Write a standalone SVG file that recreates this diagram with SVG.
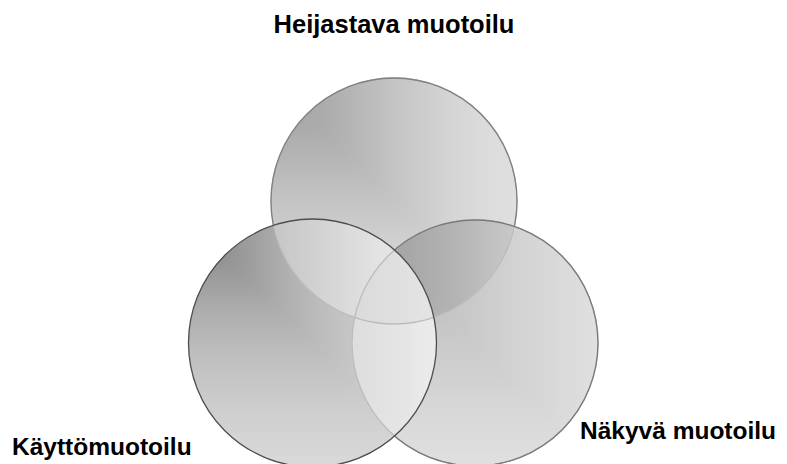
<svg xmlns="http://www.w3.org/2000/svg" width="787" height="464" viewBox="0 0 787 464">
<style>
.lbl{font-family:"Liberation Sans",Arial,sans-serif;font-weight:bold;fill:#000}
</style>
<defs>
<clipPath id="cT"><circle cx="394" cy="201" r="123"/></clipPath>
<clipPath id="cL"><circle cx="312.5" cy="343" r="124"/></clipPath>
<clipPath id="cR"><circle cx="475" cy="343" r="123"/></clipPath>
<filter id="soft" x="-10%" y="-10%" width="120%" height="120%"><feGaussianBlur stdDeviation="7"/></filter>
<linearGradient id="gTh" gradientUnits="userSpaceOnUse" x1="271" y1="0" x2="517" y2="0">
<stop offset="0" stop-color="#a4a4a4"/><stop offset="0.2" stop-color="#aaaaaa"/><stop offset="0.5" stop-color="#c4c4c4"/><stop offset="0.75" stop-color="#d6d6d6"/><stop offset="1" stop-color="#e0e0e0"/>
</linearGradient>
<linearGradient id="gTv" href="#gTh" gradientUnits="userSpaceOnUse" x1="0" y1="78" x2="0" y2="324"/>
<linearGradient id="gRh" gradientUnits="userSpaceOnUse" x1="352" y1="0" x2="598" y2="0">
<stop offset="0" stop-color="#b4b4b4"/><stop offset="0.3" stop-color="#c0c0c0"/><stop offset="0.5" stop-color="#cacaca"/><stop offset="0.75" stop-color="#d6d6d6"/><stop offset="1" stop-color="#e0e0e0"/>
</linearGradient>
<linearGradient id="gRv" href="#gRh" gradientUnits="userSpaceOnUse" x1="0" y1="220" x2="0" y2="466"/>
<linearGradient id="gTRh" gradientUnits="userSpaceOnUse" x1="352" y1="0" x2="598" y2="0">
<stop offset="0" stop-color="#a0a0a0"/><stop offset="0.25" stop-color="#a8a8a8"/><stop offset="0.45" stop-color="#b6b6b6"/><stop offset="0.6" stop-color="#c4c4c4"/><stop offset="0.8" stop-color="#d0d0d0"/><stop offset="1" stop-color="#d6d6d6"/>
</linearGradient>
<linearGradient id="gTRv" href="#gTRh" gradientUnits="userSpaceOnUse" x1="0" y1="220" x2="0" y2="466"/>
<linearGradient id="gLh" gradientUnits="userSpaceOnUse" x1="188.5" y1="0" x2="436.5" y2="0">
<stop offset="0" stop-color="#808080"/><stop offset="0.18" stop-color="#959595"/><stop offset="0.4" stop-color="#b0b0b0"/><stop offset="0.55" stop-color="#bebebe"/><stop offset="0.75" stop-color="#cdcdcd"/><stop offset="1" stop-color="#dadada"/>
</linearGradient>
<linearGradient id="gLv" href="#gLh" gradientUnits="userSpaceOnUse" x1="0" y1="219" x2="0" y2="467"/>
<linearGradient id="gTLh" gradientUnits="userSpaceOnUse" x1="188.5" y1="0" x2="436.5" y2="0">
<stop offset="0" stop-color="#b0b0b0"/><stop offset="0.35" stop-color="#c6c6c6"/><stop offset="0.55" stop-color="#d4d4d4"/><stop offset="0.75" stop-color="#e2e2e2"/><stop offset="1" stop-color="#e8e8e8"/>
</linearGradient>
<linearGradient id="gTLv" href="#gTLh" gradientUnits="userSpaceOnUse" x1="0" y1="219" x2="0" y2="467"/>
<linearGradient id="gLRh" gradientUnits="userSpaceOnUse" x1="188.5" y1="0" x2="436.5" y2="0">
<stop offset="0" stop-color="#cccccc"/><stop offset="0.6" stop-color="#dcdcdc"/><stop offset="0.85" stop-color="#e4e4e4"/><stop offset="1" stop-color="#ececec"/>
</linearGradient>
<linearGradient id="gLRv" href="#gLRh" gradientUnits="userSpaceOnUse" x1="0" y1="219" x2="0" y2="467"/>
<linearGradient id="gAllh" gradientUnits="userSpaceOnUse" x1="188.5" y1="0" x2="436.5" y2="0">
<stop offset="0" stop-color="#cccccc"/><stop offset="0.6" stop-color="#d8d8d8"/><stop offset="0.85" stop-color="#e0e0e0"/><stop offset="1" stop-color="#e4e4e4"/>
</linearGradient>
<linearGradient id="gAllv" href="#gAllh" gradientUnits="userSpaceOnUse" x1="0" y1="219" x2="0" y2="467"/>
<mask id="mOutLR" maskUnits="userSpaceOnUse" x="0" y="0" width="787" height="464">
<rect x="0" y="0" width="787" height="464" fill="#fff"/>
<circle cx="312.5" cy="343" r="124" fill="#000"/>
<circle cx="475" cy="343" r="123" fill="#000"/>
</mask>
<mask id="mOutL" maskUnits="userSpaceOnUse" x="0" y="0" width="787" height="464">
<rect x="0" y="0" width="787" height="464" fill="#fff"/>
<circle cx="312.5" cy="343" r="124" fill="#000"/>
</mask>
</defs>

<g id="node-top">
<g clip-path="url(#cT)"><g filter="url(#soft)">
<rect x="251" y="58" width="286" height="286" fill="url(#gTv)"/>
<polygon points="251,58 537,58 537,344" fill="url(#gTh)"/>
</g></g>
</g>

<g id="node-right">
<g clip-path="url(#cR)"><g filter="url(#soft)">
<rect x="332" y="200" width="286" height="286" fill="url(#gRv)"/>
<polygon points="332,200 618,200 618,486" fill="url(#gRh)"/>
</g></g>
<g clip-path="url(#cT)"><g clip-path="url(#cR)"><g filter="url(#soft)">
<rect x="332" y="200" width="286" height="286" fill="url(#gTRv)"/>
<polygon points="332,200 618,200 618,486" fill="url(#gTRh)"/>
</g></g></g>
</g>

<g id="node-left">
<g clip-path="url(#cL)"><g filter="url(#soft)">
<rect x="168.5" y="199" width="288" height="288" fill="url(#gLv)"/>
<polygon points="168.5,199 456.5,199 456.5,487" fill="url(#gLh)"/>
</g></g>
<g clip-path="url(#cT)"><g clip-path="url(#cL)"><g filter="url(#soft)">
<rect x="168.5" y="199" width="288" height="288" fill="url(#gTLv)"/>
<polygon points="168.5,199 456.5,199 456.5,487" fill="url(#gTLh)"/>
</g></g></g>
<g clip-path="url(#cR)"><g clip-path="url(#cL)"><g filter="url(#soft)">
<rect x="168.5" y="199" width="288" height="288" fill="url(#gLRv)"/>
<polygon points="168.5,199 456.5,199 456.5,487" fill="url(#gLRh)"/>
</g></g></g>
<g clip-path="url(#cT)"><g clip-path="url(#cR)"><g clip-path="url(#cL)"><g filter="url(#soft)">
<rect x="168.5" y="199" width="288" height="288" fill="url(#gAllv)"/>
<polygon points="168.5,199 456.5,199 456.5,487" fill="url(#gAllh)"/>
</g></g></g></g>
</g>

<g id="outlines" fill="none" stroke-width="1.3">
<circle cx="394" cy="201" r="123" stroke="#bcbcbc"/>
<circle cx="394" cy="201" r="123" stroke="#808080" mask="url(#mOutLR)"/>
<circle cx="475" cy="343" r="123" stroke="#bcbcbc"/>
<circle cx="475" cy="343" r="123" stroke="#7a7a7a" mask="url(#mOutL)"/>
<circle cx="312.5" cy="343" r="124" stroke="#4d4d4d"/>
</g>

<g id="connectors"></g>

<g id="labels">
<text class="lbl" x="394" y="33" font-size="25.5" text-anchor="middle">Heijastava muotoilu</text>
<text class="lbl" x="12" y="455" font-size="24.5">Käyttömuotoilu</text>
<text class="lbl" x="580" y="439" font-size="24.5">Näkyvä muotoilu</text>
</g>
</svg>
